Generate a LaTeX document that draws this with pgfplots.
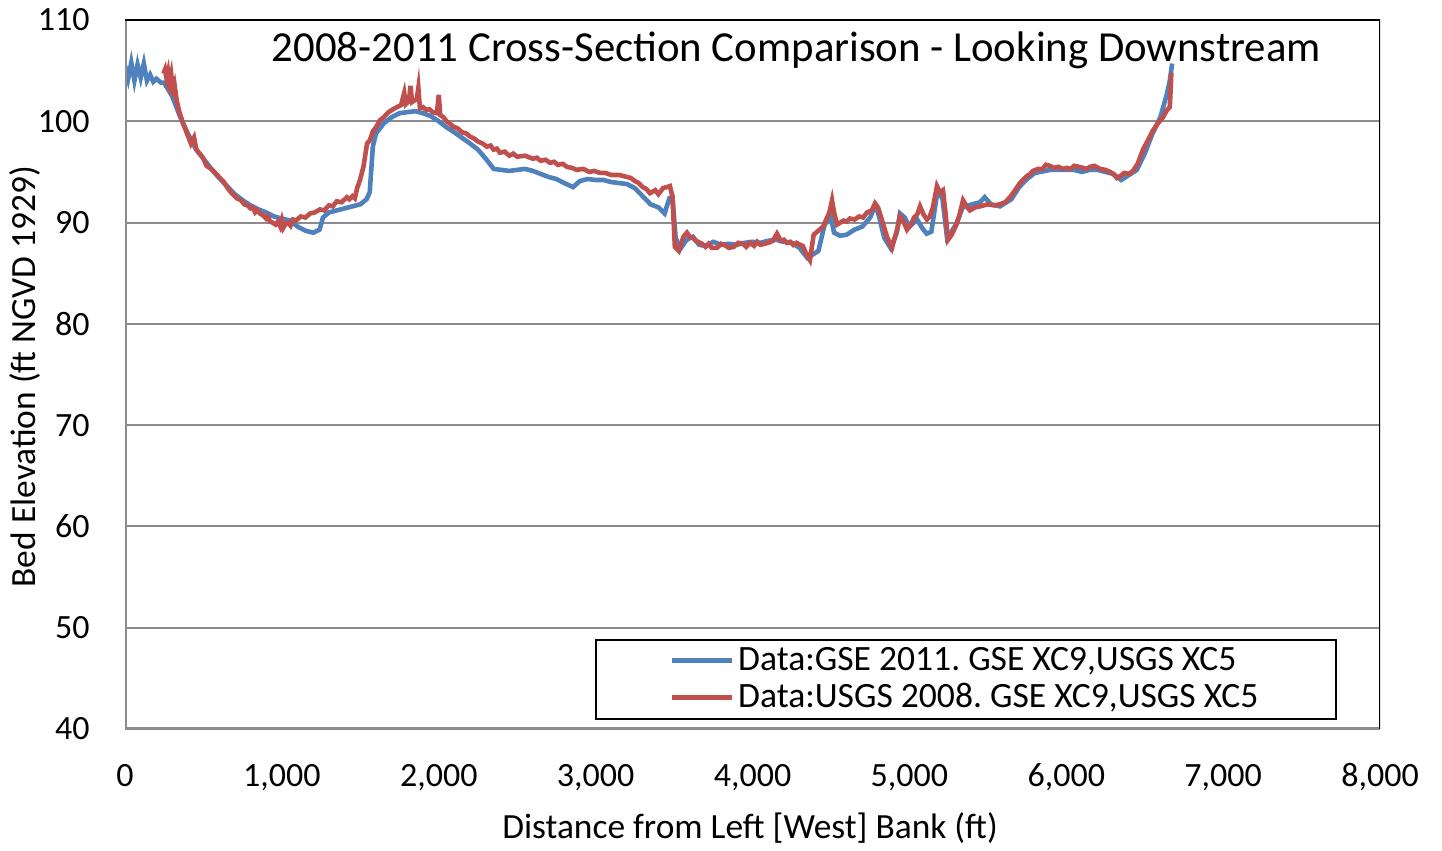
\documentclass[border=0pt]{standalone}
\usepackage{pgfplots}
\pgfplotsset{compat=1.18}
\usepackage{fontspec}
\setmainfont{Carlito}
\definecolor{exblue}{HTML}{4F81BD}
\definecolor{exred}{HTML}{C0504D}
\definecolor{gridgray}{HTML}{8C8C8C}
\begin{document}
\frenchspacing
\begin{tikzpicture}
\begin{axis}[
  name=ax,
  scale only axis,
  width=627.5pt, height=354.5pt,
  xmin=0, xmax=8000, ymin=40, ymax=110,
  xtick={0,1000,...,8000},
  ytick={40,50,...,110},
  scaled x ticks=false,
  /pgf/number format/.cd, 1000 sep={,}, assume math mode=true,
  /pgfplots/.cd,
  tick style={draw=none},
  axis line style={draw=none},
  ymajorgrids,
  grid style={gridgray, line width=1pt},
  ticklabel style={font=\fontsize{17}{20}\selectfont},
  xticklabel style={anchor=base, inner sep=0pt, yshift=-29pt},
  yticklabel style={anchor=east, inner sep=0pt, xshift=-17.5pt},
  xlabel={Distance from Left [West] Bank (ft)},
  ylabel={Bed Elevation (ft NGVD 1929)},
  every axis x label/.style={at={([yshift=-49.5pt]axis description cs:0.498,0)}, anchor=center, font=\fontsize{17.7}{21}\selectfont},
  every axis y label/.style={at={([xshift=-50pt]axis description cs:0,0.497)}, anchor=center, rotate=90, font=\fontsize{17.7}{21}\selectfont},
  legend style={at={(rel axis cs:0.966,0.0127)}, anchor=south east,
    draw=black, line width=1pt, inner xsep=37pt, inner ysep=2pt,
    font=\fontsize{17.8}{21}\selectfont, row sep=1pt,
    /tikz/every even column/.append style={column sep=2pt}},
  legend cell align=left,
  legend image code/.code={\draw[#1, line width=2.3pt] (0pt,0pt) -- (30pt,0pt);},
]
\addplot[exblue, line width=2.3pt] coordinates {
(0,105.5)(20,104.2)(40,105.8)(60,104.0)(80,105.6)(100,104.3)(120,105.7)(140,104.0)(160,104.6)(180,103.9)(200,104.2)(230,103.8)
(250,103.8)(300,102.5)(350,100.5)(400,98.8)(450,97.3)(500,96.3)(550,95.3)(600,94.4)(650,93.6)(700,92.8)(750,92.2)(800,91.7)
(850,91.3)(900,91.0)(950,90.6)(1000,90.4)(1050,90.2)(1100,89.6)(1150,89.2)(1200,89.0)(1240,89.3)(1262,90.5)(1300,91.0)
(1400,91.4)(1500,91.8)(1540,92.3)(1560,93.0)(1580,97.5)(1600,98.8)(1650,99.8)(1700,100.4)(1750,100.8)(1800,100.9)(1850,101.0)
(1900,100.8)(1950,100.5)(2000,100.0)(2050,99.4)(2100,98.9)(2200,97.8)(2250,97.2)(2300,96.3)(2350,95.3)(2400,95.2)(2450,95.1)
(2500,95.2)(2550,95.3)(2600,95.1)(2650,94.8)(2700,94.5)(2750,94.3)(2800,93.9)(2856,93.5)(2900,94.1)(2950,94.3)(3000,94.2)
(3050,94.2)(3100,94.0)(3150,93.9)(3200,93.8)(3250,93.4)(3300,92.6)(3350,91.8)(3400,91.5)(3440,90.9)(3470,92.4)(3490,92.5)
(3510,88.5)(3540,87.4)(3580,88.3)(3620,88.6)(3660,87.8)(3700,87.7)(3750,88.1)(3800,87.8)(3850,87.9)(3900,87.8)(3950,88.0)
(4000,88.1)(4050,88.0)(4100,88.2)(4150,88.3)(4200,88.1)(4250,88.0)(4300,87.5)(4350,86.5)(4380,86.8)(4420,87.2)(4460,89.8)
(4500,90.5)(4520,89.0)(4560,88.7)(4600,88.8)(4650,89.3)(4700,89.6)(4750,90.5)(4780,91.6)(4800,91.0)(4840,88.5)(4880,87.5)
(4920,89.0)(4940,90.9)(4970,90.5)(5000,89.6)(5050,90.3)(5080,89.5)(5110,88.9)(5140,89.1)(5176,92.8)(5210,92.5)(5240,88.5)
(5260,88.9)(5300,89.9)(5340,91.5)(5400,91.8)(5450,92.0)(5480,92.5)(5520,91.8)(5577,91.6)(5650,92.3)(5700,93.5)(5750,94.3)
(5800,94.9)(5900,95.2)(6000,95.2)(6050,95.2)(6100,95.0)(6150,95.2)(6200,95.2)(6300,94.8)(6350,94.2)(6400,94.7)(6450,95.2)
(6500,96.8)(6550,98.8)(6600,100.4)(6640,102.6)(6660,104.0)(6675,105.7)
};
\addlegendentry{Data:GSE 2011. GSE XC9,USGS XC5}
\addplot[exred, line width=2.3pt] coordinates {
(245,104.7)(255,105.1)(265,104.2)(275,104.9)(285,103.8)(295,104.6)(305,103.2)(315,103.7)(330,102.0)(345,101.0)(370,99.8)
(400,98.6)(420,97.8)(440,98.4)(455,97.2)(497,96.4)(520,95.6)(550,95.3)(575,94.9)(605,94.4)(630,94.0)(650,93.5)(680,92.9)
(713,92.4)(740,92.2)(760,91.8)(780,91.7)(800,91.4)(815,91.5)(830,91.0)(845,91.2)(860,90.9)(880,90.7)(900,90.4)(912,90.6)
(924,90.1)(940,90.0)(960,89.8)(975,90.1)(990,89.6)(1000,90.2)(1010,89.5)(1025,89.9)(1040,90.0)(1055,89.7)(1071,90.3)
(1090,90.2)(1120,90.6)(1150,90.5)(1180,90.9)(1210,91.0)(1243,91.3)(1270,91.2)(1300,91.7)(1325,91.6)(1350,92.1)(1380,92.0)
(1415,92.5)(1430,92.3)(1450,92.6)(1465,92.4)(1480,93.4)(1498,94.2)(1520,95.5)(1543,97.8)(1560,98.1)(1580,99.0)(1600,99.4)
(1625,100.1)(1650,100.4)(1680,100.9)(1710,101.2)(1734,101.4)(1760,101.6)(1780,102.8)(1790,101.7)(1810,102.0)(1820,103.5)
(1830,101.9)(1860,102.2)(1870,103.3)(1880,101.3)(1900,101.4)(1920,101.1)(1940,101.2)(1960,100.9)(1988,100.8)(2000,102.6)
(2010,100.6)(2030,100.4)(2050,100.0)(2070,99.8)(2090,99.5)(2120,99.3)(2150,98.9)(2175,98.8)(2199,98.5)(2225,98.3)(2250,98.0)
(2280,97.8)(2307,97.5)(2330,97.6)(2350,97.2)(2370,97.3)(2390,96.9)(2420,97.0)(2450,96.6)(2475,96.8)(2500,96.5)(2550,96.6)
(2600,96.3)(2625,96.4)(2650,96.1)(2680,96.2)(2710,95.9)(2735,96.0)(2760,95.7)(2790,95.8)(2817,95.5)(2850,95.4)(2880,95.2)
(2920,95.3)(2960,95.0)(2990,95.1)(3028,94.9)(3060,94.9)(3100,94.7)(3150,94.7)(3200,94.5)(3225,94.4)(3250,94.1)(3275,93.9)
(3300,93.5)(3325,93.3)(3346,92.9)(3380,93.2)(3400,92.8)(3430,93.4)(3474,93.6)(3490,92.5)(3505,87.6)(3530,87.2)(3560,88.6)
(3582,89.0)(3600,88.6)(3620,88.5)(3640,88.2)(3665,88.0)(3680,87.9)(3700,87.6)(3720,87.9)(3740,87.5)(3774,87.5)(3800,87.9)
(3820,87.8)(3850,87.5)(3880,87.6)(3910,88.0)(3940,87.9)(3960,87.6)(3984,88.0)(4010,87.7)(4030,88.1)(4050,87.8)(4075,87.9)
(4100,88.0)(4130,88.2)(4156,88.9)(4180,88.2)(4200,88.3)(4220,88.0)(4240,88.1)(4260,87.8)(4280,88.0)(4303,87.8)(4320,87.7)
(4340,87.0)(4366,86.3)(4390,88.8)(4420,89.2)(4450,89.6)(4490,91.0)(4507,92.2)(4520,91.0)(4539,89.8)(4560,90.0)(4580,90.2)
(4600,90.1)(4621,90.4)(4650,90.3)(4680,90.6)(4705,90.5)(4730,91.0)(4760,91.2)(4781,91.9)(4800,91.5)(4830,90.0)(4857,88.6)
(4889,87.5)(4920,89.2)(4940,90.6)(4960,90.2)(4985,89.3)(5010,89.8)(5030,90.5)(5050,90.8)(5068,91.6)(5090,90.8)(5112,90.3)
(5130,90.6)(5150,91.5)(5176,93.6)(5195,93.0)(5214,93.2)(5230,91.0)(5246,88.3)(5270,88.8)(5303,89.9)(5320,90.8)(5342,92.2)
(5365,91.6)(5386,91.2)(5420,91.5)(5450,91.6)(5475,91.7)(5500,91.8)(5540,91.7)(5577,91.8)(5610,92.0)(5641,92.5)(5670,93.1)
(5705,93.9)(5730,94.3)(5750,94.6)(5770,94.8)(5788,95.1)(5820,95.3)(5850,95.3)(5870,95.7)(5896,95.6)(5920,95.4)(5950,95.5)
(5980,95.3)(6005,95.4)(6030,95.3)(6050,95.6)(6080,95.5)(6107,95.4)(6130,95.3)(6151,95.5)(6180,95.6)(6215,95.3)(6250,95.2)
(6280,95.0)(6300,94.8)(6323,94.4)(6345,94.6)(6370,94.9)(6400,94.8)(6425,95.1)(6455,95.8)(6489,97.2)(6520,98.1)(6553,99.1)
(6585,99.8)(6617,100.4)(6642,101.1)(6660,101.4)(6665,103.0)(6670,104.8)
};
\addlegendentry{Data:USGS 2008. GSE XC9,USGS XC5}
\draw[gridgray, line width=1.5pt] (rel axis cs:0,1) -- (rel axis cs:0,0) -- (rel axis cs:1,0);
\draw[black, line width=1.5pt] (rel axis cs:0,1) -- (rel axis cs:1,1) -- (rel axis cs:1,0);
\node[anchor=base, font=\fontsize{21.4}{25}\selectfont] at ([yshift=-21pt]rel axis cs:0.535,1) {2008-2011 Cross-Section Comparison - Looking Downstream};
\end{axis}
\path ([xshift=-62.5pt,yshift=-60.5pt]ax.south west) rectangle ([xshift=31pt,yshift=10pt]ax.north east);
\end{tikzpicture}
\end{document}
